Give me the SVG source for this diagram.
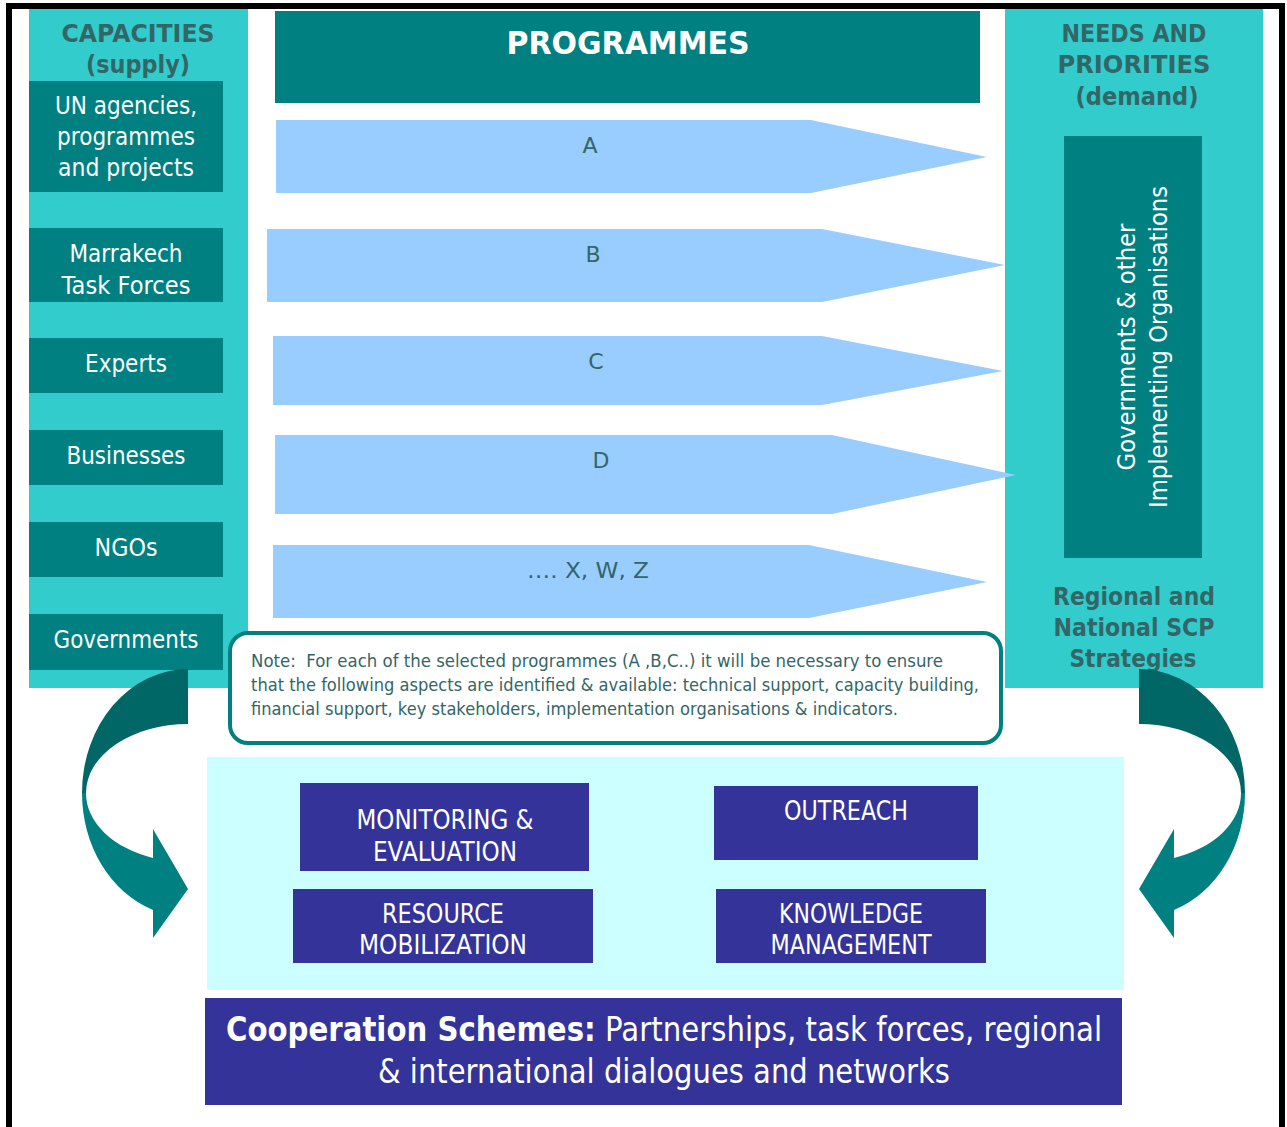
<svg xmlns="http://www.w3.org/2000/svg" width="1287" height="1127" viewBox="0 0 1287 1127">
<style>
.t{font-family:"DejaVu Sans","Liberation Sans",sans-serif}
.hd{font-family:"DejaVu Sans","Liberation Sans",sans-serif;font-weight:bold;fill:#336666;text-anchor:middle}
.wt{font-family:"DejaVu Sans","Liberation Sans",sans-serif;fill:#ffffff;text-anchor:middle}
.lt{font-family:"DejaVu Sans","Liberation Sans",sans-serif;fill:#336666;text-anchor:middle}
.teal{fill:#008080}
.arr{fill:#99CCFF}
.navy{fill:#333399}
</style>
<rect width="1287" height="1127" fill="#ffffff"/>
<g id="border" fill="#000000">
<rect x="6" y="3" width="1279" height="6"/>
<rect x="6" y="3" width="6" height="1124"/>
<rect x="1279" y="3" width="6" height="1124"/>
</g>
<g id="capacities">
<rect x="29" y="9" width="219" height="679" fill="#33CCCC"/>
<text class="hd" x="138" y="42" font-size="24" textLength="153" lengthAdjust="spacingAndGlyphs">CAPACITIES</text>
<text class="hd" x="138" y="73" font-size="24" textLength="104" lengthAdjust="spacingAndGlyphs">(supply)</text>
</g>
<g id="un-agencies">
<rect class="teal" x="29" y="81" width="194" height="111"/>
<text class="wt" x="126" y="114" font-size="25" textLength="142" lengthAdjust="spacingAndGlyphs">UN agencies,</text>
<text class="wt" x="126" y="145" font-size="25" textLength="138" lengthAdjust="spacingAndGlyphs">programmes</text>
<text class="wt" x="126" y="176" font-size="25" textLength="136" lengthAdjust="spacingAndGlyphs">and projects</text>
</g>
<g id="marrakech">
<rect class="teal" x="29" y="228" width="194" height="74"/>
<text class="wt" x="126" y="262" font-size="25" textLength="113" lengthAdjust="spacingAndGlyphs">Marrakech</text>
<text class="wt" x="126" y="294" font-size="25" textLength="129" lengthAdjust="spacingAndGlyphs">Task Forces</text>
</g>
<g id="experts">
<rect class="teal" x="29" y="338" width="194" height="55"/>
<text class="wt" x="126" y="372" font-size="25" textLength="82" lengthAdjust="spacingAndGlyphs">Experts</text>
</g>
<g id="businesses">
<rect class="teal" x="29" y="430" width="194" height="55"/>
<text class="wt" x="126" y="464" font-size="25" textLength="119" lengthAdjust="spacingAndGlyphs">Businesses</text>
</g>
<g id="ngos">
<rect class="teal" x="29" y="522" width="194" height="55"/>
<text class="wt" x="126" y="556" font-size="25" textLength="63" lengthAdjust="spacingAndGlyphs">NGOs</text>
</g>
<g id="governments">
<rect class="teal" x="29" y="614" width="194" height="56"/>
<text class="wt" x="126" y="648" font-size="25" textLength="145" lengthAdjust="spacingAndGlyphs">Governments</text>
</g>
<g id="needs">
<rect x="1005" y="9" width="258" height="679" fill="#33CCCC"/>
<text class="hd" x="1134" y="42" font-size="24" textLength="145" lengthAdjust="spacingAndGlyphs">NEEDS AND</text>
<text class="hd" x="1134" y="73" font-size="24" textLength="153" lengthAdjust="spacingAndGlyphs">PRIORITIES</text>
<text class="hd" x="1137" y="105" font-size="24" textLength="123" lengthAdjust="spacingAndGlyphs">(demand)</text>
<text class="hd" x="1134" y="605" font-size="24" textLength="162" lengthAdjust="spacingAndGlyphs">Regional and</text>
<text class="hd" x="1134" y="636" font-size="24" textLength="161" lengthAdjust="spacingAndGlyphs">National SCP</text>
<text class="hd" x="1133" y="667" font-size="24" textLength="127" lengthAdjust="spacingAndGlyphs">Strategies</text>
</g>
<g id="implementing-orgs">
<rect class="teal" x="1064" y="136" width="138" height="422"/>
<text class="wt" transform="translate(1135,347) rotate(-90)" font-size="25" textLength="247" lengthAdjust="spacingAndGlyphs">Governments &amp; other</text>
<text class="wt" transform="translate(1167,347) rotate(-90)" font-size="25" textLength="322" lengthAdjust="spacingAndGlyphs">Implementing Organisations</text>
</g>
<g id="programmes">
<rect class="teal" x="275" y="11" width="705" height="92"/>
<text class="wt" x="628" y="54" font-size="32" font-weight="bold" textLength="243" lengthAdjust="spacingAndGlyphs">PROGRAMMES</text>
</g>
<g id="prog-a">
<polygon class="arr" points="276,120 811,120 987,157 811,193 276,193"/>
<text class="lt" x="590" y="153" font-size="22">A</text>
</g>
<g id="prog-b">
<polygon class="arr" points="267,229 822,229 1005,265 822,302 267,302"/>
<text class="lt" x="593" y="262" font-size="22">B</text>
</g>
<g id="prog-c">
<polygon class="arr" points="273,336 822,336 1003,371 822,405 273,405"/>
<text class="lt" x="596" y="369" font-size="22">C</text>
</g>
<g id="prog-d">
<polygon class="arr" points="275,435 832,435 1016,475 832,514 275,514"/>
<text class="lt" x="601" y="468" font-size="22">D</text>
</g>
<g id="prog-xwz">
<polygon class="arr" points="273,545 809,545 987,582 809,618 273,618"/>
<text class="lt" x="588" y="578" font-size="22" textLength="122" lengthAdjust="spacingAndGlyphs">…. X, W, Z</text>
</g>
<g id="note">
<rect x="230" y="633" width="771" height="110" rx="18" fill="#ffffff" stroke="#008080" stroke-width="4"/>
<text class="t" fill="#336666" x="251" y="667" font-size="18" textLength="692" lengthAdjust="spacingAndGlyphs">Note:&#160; For each of the selected programmes (A ,B,C..) it will be necessary to ensure</text>
<text class="t" fill="#336666" x="251" y="691" font-size="18" textLength="728" lengthAdjust="spacingAndGlyphs">that the following aspects are identified &amp; available: technical support, capacity building,</text>
<text class="t" fill="#336666" x="251" y="715" font-size="18" textLength="647" lengthAdjust="spacingAndGlyphs">financial support, key stakeholders, implementation organisations &amp; indicators.</text>
</g>
<g id="support-area">
<rect x="207" y="757" width="917" height="233" fill="#CCFFFF"/>
</g>
<g id="monitoring">
<rect class="navy" x="300" y="783" width="289" height="88"/>
<text class="wt" x="445" y="829" font-size="26" textLength="177" lengthAdjust="spacingAndGlyphs">MONITORING &amp;</text>
<text class="wt" x="445" y="861" font-size="26" textLength="144" lengthAdjust="spacingAndGlyphs">EVALUATION</text>
</g>
<g id="outreach">
<rect class="navy" x="714" y="786" width="264" height="74"/>
<text class="wt" x="846" y="820" font-size="26" textLength="124" lengthAdjust="spacingAndGlyphs">OUTREACH</text>
</g>
<g id="resource">
<rect class="navy" x="293" y="889" width="300" height="74"/>
<text class="wt" x="443" y="923" font-size="26" textLength="122" lengthAdjust="spacingAndGlyphs">RESOURCE</text>
<text class="wt" x="443" y="954" font-size="26" textLength="168" lengthAdjust="spacingAndGlyphs">MOBILIZATION</text>
</g>
<g id="knowledge">
<rect class="navy" x="716" y="889" width="270" height="74"/>
<text class="wt" x="851" y="923" font-size="26" textLength="144" lengthAdjust="spacingAndGlyphs">KNOWLEDGE</text>
<text class="wt" x="851" y="954" font-size="26" textLength="161" lengthAdjust="spacingAndGlyphs">MANAGEMENT</text>
</g>
<g id="cooperation">
<rect class="navy" x="205" y="998" width="917" height="107"/>
<text class="wt" transform="translate(664,1041) scale(0.86,1)" x="0" y="0" font-size="34"><tspan font-weight="bold">Cooperation Schemes:</tspan> Partnerships, task forces, regional</text>
<text class="wt" x="664" y="1083" font-size="34" textLength="572" lengthAdjust="spacingAndGlyphs">&amp; international dialogues and networks</text>
</g>
<g id="connectors">
<g id="curve-left">
<path fill="#006666" d="M188,669 A106,124 0 0 0 82,793 L86,793 A102,69 0 0 1 188,724 Z"/>
<path fill="#008080" d="M82,793 A106,124 0 0 0 153,910 L153,938 L188,889 L153,829 L153,858 A102,69 0 0 1 86,793 Z"/>
</g>
<g id="curve-right" transform="translate(1327,0) scale(-1,1)">
<path fill="#006666" d="M188,669 A106,124 0 0 0 82,793 L86,793 A102,69 0 0 1 188,724 Z"/>
<path fill="#008080" d="M82,793 A106,124 0 0 0 153,910 L153,938 L188,889 L153,829 L153,858 A102,69 0 0 1 86,793 Z"/>
</g>
</g>
</svg>
